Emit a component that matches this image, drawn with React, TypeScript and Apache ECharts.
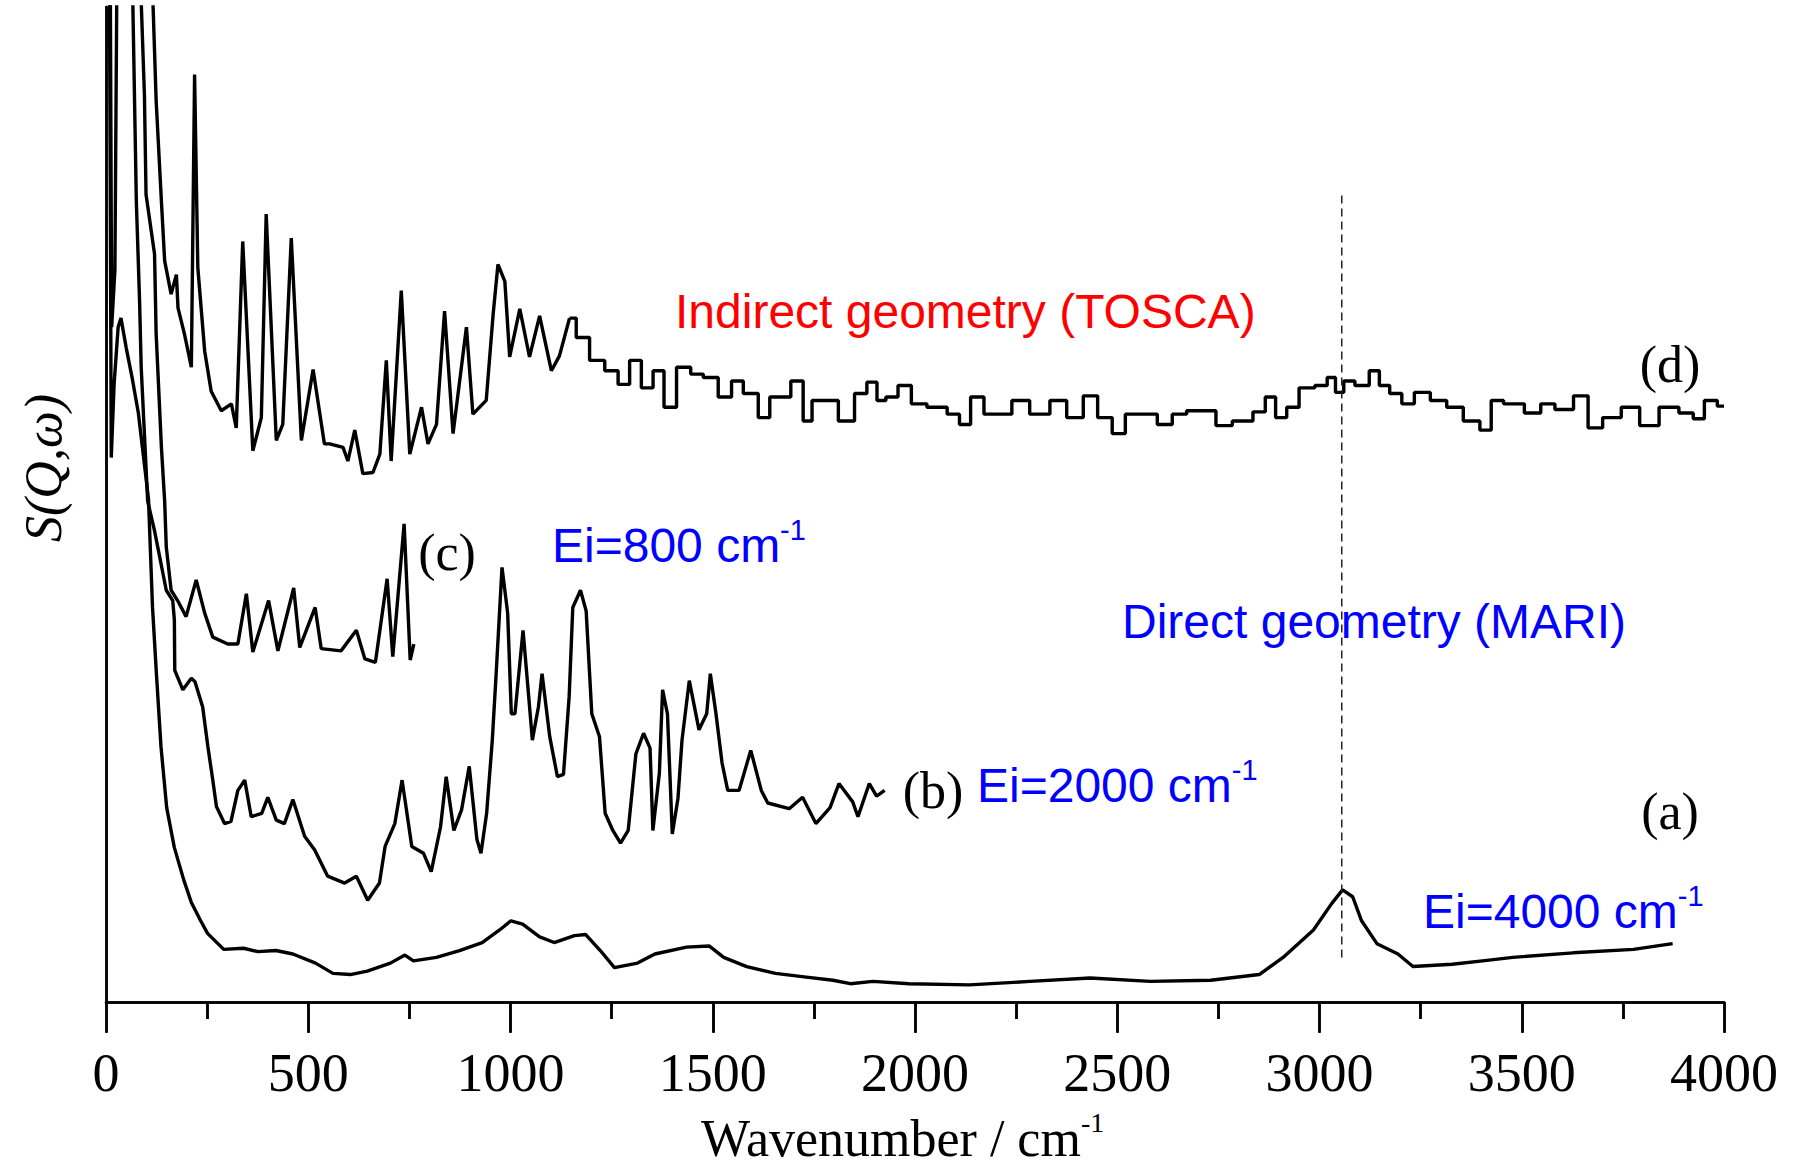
import React, { useEffect, useRef } from "react";
import * as echarts from "echarts";

// ---------- data (x: wavenumber / cm-1, y: arbitrary S(Q,w) units) ----------
const xMin = 0;
const xMax = 4000;
const xInterval = 500;
const yMin = 0;
const yMax = 870;

// (a) MARI, Ei = 4000 cm-1
const aX = [0, 8, 13, 20, 30, 37, 50, 65, 80, 95, 105, 115, 125, 136, 150, 169, 192, 211, 234, 251, 291, 340, 376, 420, 462, 518, 561, 604, 646, 703, 739, 760, 817, 874, 930, 973, 1001, 1030, 1072, 1108, 1158, 1186, 1222, 1257, 1314, 1357, 1435, 1491, 1527, 1584, 1655, 1726, 1797, 1840, 1896, 1985, 2134, 2284, 2433, 2582, 2731, 2851, 2910, 2985, 3030, 3057, 3082, 3104, 3142, 3194, 3231, 3328, 3403, 3478, 3627, 3776, 3873];
const aY = [950, 950, 476, 540, 590, 598, 572, 545, 515, 470, 440, 345, 285, 223, 170, 135, 107, 87, 71, 60, 46, 47, 44, 45, 42, 34, 25, 24, 27, 34, 41, 36, 39, 45, 52, 63, 71, 68, 57, 52, 58, 59, 45, 30, 34, 42, 48, 49, 39, 31, 25, 22, 19, 16, 18, 16, 15, 18, 21, 18, 19, 24, 39, 63, 86, 98, 92, 71, 51, 42, 31, 33, 36, 39, 43, 46, 51];

// (b) MARI, Ei = 2000 cm-1
const bX = [40, 66, 75, 83, 87, 103, 120, 149, 165, 169, 170, 190, 211, 220, 239, 252, 264, 273, 293, 309, 326, 343, 359, 385, 400, 421, 441, 462, 491, 516, 548, 590, 619, 647, 676, 690, 714, 732, 756, 785, 804, 827, 841, 860, 879, 898, 917, 927, 941, 955, 965, 979, 993, 1002, 1011, 1031, 1045, 1054, 1069, 1078, 1097, 1116, 1131, 1145, 1154, 1173, 1187, 1201, 1220, 1234, 1253, 1272, 1291, 1310, 1329, 1345, 1352, 1368, 1376, 1388, 1400, 1414, 1424, 1442, 1466, 1485, 1494, 1508, 1523, 1537, 1565, 1594, 1620, 1636, 1689, 1722, 1755, 1790, 1812, 1846, 1859, 1887, 1905, 1925];
const bY = [950, 880, 700, 613, 555, 438, 412, 360, 351, 334, 290, 273, 283, 280, 258, 223, 194, 171, 156, 158, 185, 194, 162, 165, 179, 159, 156, 177, 145, 133, 110, 104, 110, 89, 104, 136, 156, 194, 136, 130, 114, 153, 197, 150, 168, 206, 142, 130, 165, 229, 290, 380, 340, 252, 252, 325, 267, 229, 258, 287, 232, 197, 199, 267, 345, 360, 342, 252, 232, 165, 150, 139, 150, 217, 235, 222, 150, 200, 273, 252, 147, 178, 229, 281, 238, 252, 287, 252, 209, 185, 185, 220, 185, 174, 169, 179, 156, 170, 191, 175, 162, 191, 180, 185];

// (c) MARI, Ei = 800 cm-1
const cX = [40, 87, 95, 99, 120, 124, 137, 145, 149, 161, 177, 198, 223, 244, 264, 301, 326, 347, 363, 402, 425, 464, 479, 517, 532, 581, 619, 640, 666, 695, 709, 737, 752, 761];
const cY = [950, 875, 793, 706, 654, 584, 485, 438, 398, 360, 351, 337, 369, 340, 319, 313, 313, 357, 306, 351, 307, 362, 310, 345, 309, 307, 325, 300, 297, 370, 302, 418, 299, 313];

// (d) TOSCA (indirect geometry)
const dX = [0, 10, 14, 22, 28, 100, 116, 124, 137, 145, 161, 174, 178, 194, 211, 219, 227, 244, 260, 285, 310, 322, 338, 363, 384, 396, 421, 437, 458, 483, 512, 540, 553, 586, 598, 615, 635, 660, 677, 693, 705, 730, 751, 780, 796, 817, 837, 858, 891, 907, 940, 957, 969, 986, 998, 1023, 1047, 1072, 1101, 1121, 1146, 1179, 1212, 1254, 1278, 1311, 1336, 1369, 1390, 1431, 1460, 1493, 1534, 1559, 1592, 1633, 1649, 1671, 1715, 1732, 1759, 1790, 1831, 1870, 1892, 1920, 1936, 1980, 2002, 2057, 2102, 2118, 2157, 2184, 2223, 2256, 2311, 2356, 2394, 2438, 2465, 2510, 2530, 2576, 2622, 2650, 2693, 2734, 2754, 2815, 2856, 2876, 2907, 2931, 2968, 3009, 3029, 3050, 3070, 3105, 3141, 3155, 3192, 3215, 3254, 3294, 3335, 3376, 3417, 3432, 3478, 3535, 3559, 3605, 3651, 3677, 3723, 3769, 3814, 3865, 3912, 3936, 3967, 4000];
const dY = [950, 950, 590, 640, 950, 950, 875, 788, 700, 648, 619, 636, 607, 584, 555, 811, 642, 569, 534, 517, 523, 502, 665, 482, 511, 689, 491, 505, 668, 491, 553, 488, 488, 485, 473, 500, 462, 463, 479, 561, 473, 622, 479, 520, 488, 505, 604, 497, 590, 514, 526, 601, 645, 630, 564, 606, 564, 600, 552, 565, 598, 581, 561, 552, 540, 561, 537, 552, 520, 555, 549, 546, 529, 543, 532, 511, 529, 529, 543, 508, 526, 526, 508, 532, 542, 526, 529, 539, 523, 520, 514, 505, 529, 514, 514, 526, 514, 526, 511, 530, 511, 497, 514, 514, 505, 514, 517, 517, 504, 508, 516, 529, 511, 520, 537, 539, 546, 533, 543, 539, 552, 539, 532, 523, 533, 526, 520, 508, 500, 526, 523, 515, 523, 518, 530, 502, 511, 520, 504, 520, 515, 510, 526, 521];
const dStepFrom = 1146; // TOSCA histogram bins drawn as steps from here on

// C-H stretch marker (dashed line)
const chPeak = 3055;
const chLineFrom = 39;
const chLineTo = 707;

const pairs = (xs: number[], ys: number[]) => xs.map((x, i) => [x, ys[i]]);

export default function App() {
  const ref = useRef<HTMLDivElement>(null);

  useEffect(() => {
    document.body.style.margin = "0";
    const chart = echarts.init(ref.current!, undefined, { renderer: "svg" });

    const dAll = pairs(dX, dY);
    const dLeft = dAll.filter((p) => p[0] <= dStepFrom);
    const dRight = dAll.filter((p) => p[0] >= dStepFrom);

    const lineStyle = { color: "#000", width: 3.4 };
    const baseSeries = {
      type: "line" as const,
      showSymbol: false,
      symbol: "none",
      silent: true,
      clip: true,
      lineStyle,
    };

    const serif = "'Liberation Serif', 'Times New Roman', serif";
    const sans = "'Liberation Sans', Arial, sans-serif";
    const axisLineStyle = { color: "#000", width: 2.5 };

    const blueRich = (main: string) => ({
      text: `{m|${main}}{s|-1}`,
      rich: {
        m: { fontFamily: sans, fontSize: 48, fill: "#0000ff", lineHeight: 54, verticalAlign: "bottom" },
        s: { fontFamily: sans, fontSize: 29, fill: "#0000ff", lineHeight: 29, verticalAlign: "top" },
      },
    });

    const option: any = {
      animation: false,
      backgroundColor: "#fff",
      grid: { left: 106, right: 72, top: 7, bottom: 168, containLabel: false },
      xAxis: [
        {
          type: "value",
          position: "bottom",
          min: xMin,
          max: xMax,
          interval: xInterval,
          axisLine: { show: true, lineStyle: axisLineStyle },
          axisTick: { show: true, inside: false, length: 31, lineStyle: axisLineStyle },
          minorTick: { show: true, splitNumber: 2, length: 17, lineStyle: axisLineStyle },
          axisLabel: {
            show: true,
            fontFamily: serif,
            fontSize: 54,
            color: "#000",
            margin: 44,
            showMinLabel: true,
            showMaxLabel: true,
            formatter: (v: number) => String(v),
          },
          splitLine: { show: false },
          minorSplitLine: { show: false },
        },
        {
          type: "value",
          position: "top",
          min: xMin,
          max: xMax,
          interval: xInterval,
          axisLine: { show: true, lineStyle: axisLineStyle },
          axisTick: { show: true, inside: true, length: 30, lineStyle: axisLineStyle },
          minorTick: { show: true, splitNumber: 2, length: 17, lineStyle: axisLineStyle },
          axisLabel: { show: false },
          splitLine: { show: false },
          minorSplitLine: { show: false },
        },
      ],
      yAxis: [
        {
          type: "value",
          position: "left",
          min: yMin,
          max: yMax,
          axisLine: { show: true, lineStyle: axisLineStyle },
          axisTick: { show: false },
          axisLabel: { show: false },
          splitLine: { show: false },
        },
        {
          type: "value",
          position: "right",
          min: yMin,
          max: yMax,
          axisLine: { show: true, lineStyle: axisLineStyle },
          axisTick: { show: false },
          axisLabel: { show: false },
          splitLine: { show: false },
        },
      ],
      series: [
        { ...baseSeries, name: "(a)", data: pairs(aX, aY) },
        { ...baseSeries, name: "(b)", data: pairs(bX, bY) },
        { ...baseSeries, name: "(c)", data: pairs(cX, cY) },
        { ...baseSeries, name: "(d) low", data: dLeft },
        { ...baseSeries, name: "(d) high", data: dRight, step: "middle" },
        {
          ...baseSeries,
          name: "C-H",
          data: [
            [chPeak, chLineFrom],
            [chPeak, chLineTo],
          ],
          lineStyle: { color: "#222", width: 1.5, type: [8, 5] },
        },
      ],
      graphic: [
        {
          type: "text",
          x: 675,
          y: 311,
          style: { text: "Indirect geometry (TOSCA)", fill: "#ff0000", fontFamily: sans, fontSize: 48, align: "left", verticalAlign: "middle" },
        },
        { type: "text", x: 552, y: 542, style: { ...blueRich("Ei=800 cm"), align: "left", verticalAlign: "middle" } },
        {
          type: "text",
          x: 1122,
          y: 621,
          style: { text: "Direct geometry (MARI)", fill: "#0000ff", fontFamily: sans, fontSize: 48, align: "left", verticalAlign: "middle" },
        },
        { type: "text", x: 977, y: 782, style: { ...blueRich("Ei=2000 cm"), align: "left", verticalAlign: "middle" } },
        { type: "text", x: 1423, y: 908, style: { ...blueRich("Ei=4000 cm"), align: "left", verticalAlign: "middle" } },
        { type: "text", x: 1670, y: 364, style: { text: "(d)", fill: "#000", fontFamily: serif, fontSize: 52, align: "center", verticalAlign: "middle" } },
        { type: "text", x: 447, y: 552, style: { text: "(c)", fill: "#000", fontFamily: serif, fontSize: 52, align: "center", verticalAlign: "middle" } },
        { type: "text", x: 933, y: 790, style: { text: "(b)", fill: "#000", fontFamily: serif, fontSize: 52, align: "center", verticalAlign: "middle" } },
        { type: "text", x: 1670, y: 811, style: { text: "(a)", fill: "#000", fontFamily: serif, fontSize: 52, align: "center", verticalAlign: "middle" } },
        {
          type: "text",
          x: 43,
          y: 468,
          rotation: Math.PI / 2,
          style: { text: "S(Q,ω)", fill: "#000", fontFamily: serif, fontStyle: "italic", fontSize: 52, align: "center", verticalAlign: "middle" },
        },
        {
          type: "text",
          x: 701,
          y: 1136,
          style: {
            text: "{m|Wavenumber / cm}{s|-1}",
            align: "left",
            verticalAlign: "middle",
            rich: {
              m: { fontFamily: serif, fontSize: 52, fill: "#000", lineHeight: 56, verticalAlign: "bottom" },
              s: { fontFamily: serif, fontSize: 28, fill: "#000", lineHeight: 28, verticalAlign: "top" },
            },
          },
        },
      ],
    };

    chart.setOption(option);
    return () => chart.dispose();
  }, []);

  return <div ref={ref} style={{ width: 1796, height: 1170, background: "#fff" }} />;
}
